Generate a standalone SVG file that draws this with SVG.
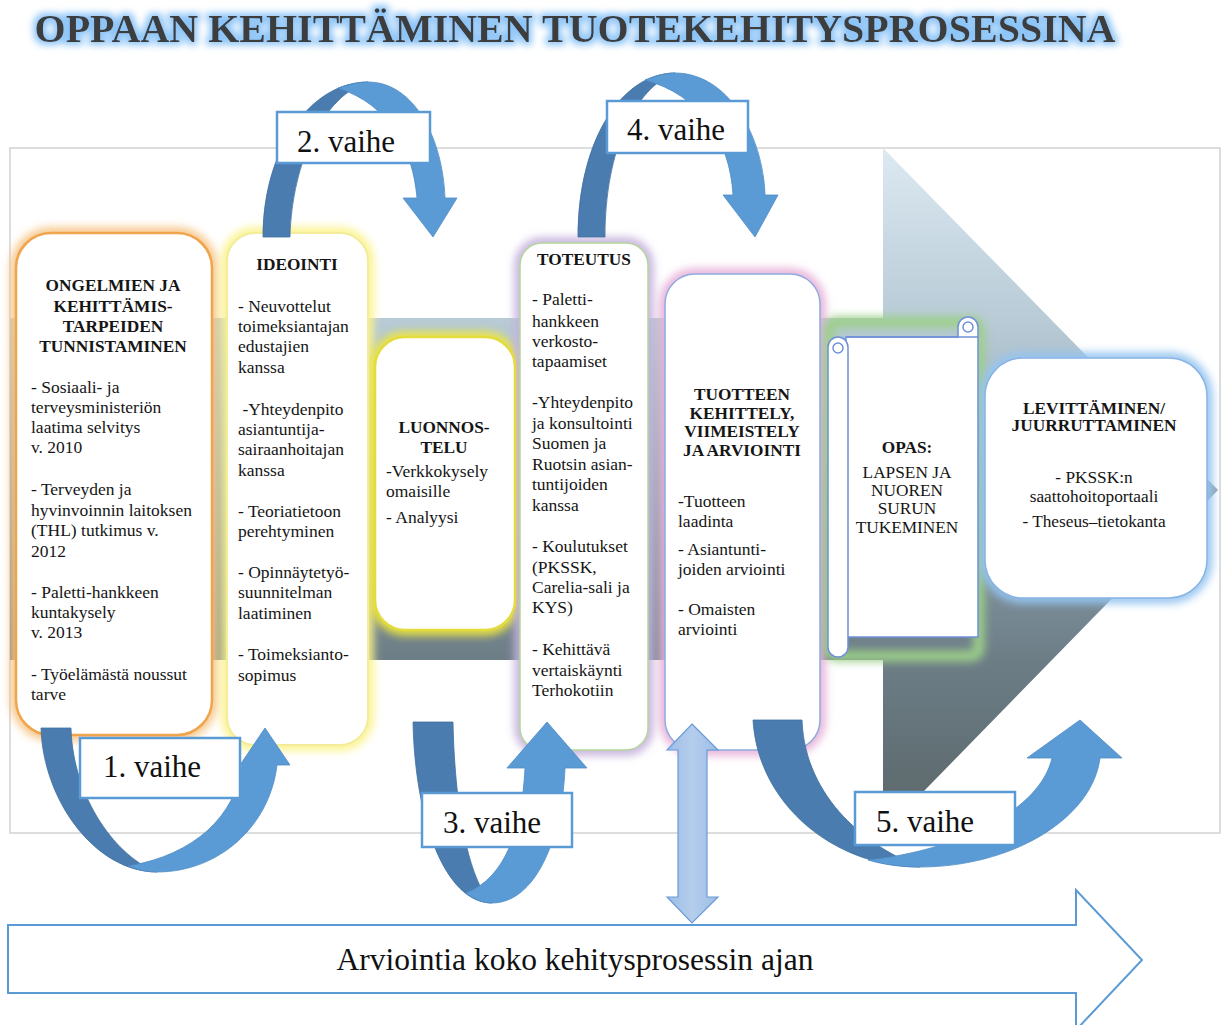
<svg xmlns="http://www.w3.org/2000/svg" width="1229" height="1025" viewBox="0 0 1229 1025" xml:space="preserve">
<defs>
  <style>
    .b{font-family:"Liberation Serif","Times New Roman",serif;font-size:17.5px;fill:#151515}
    .h{font-family:"Liberation Serif","Times New Roman",serif;font-size:17.3px;font-weight:bold;fill:#151515;text-anchor:middle}
    .c{font-family:"Liberation Serif","Times New Roman",serif;font-size:17.3px;fill:#151515;text-anchor:middle}
    .lbl{font-family:"Liberation Serif","Times New Roman",serif;font-size:31px;fill:#111}
    .lblbox{fill:#fff;stroke:#5b9bd5;stroke-width:2.5}
    .dark{fill:#4a7cb0;stroke:#41709f;stroke-width:0.8}
    .light{fill:#5b9bd5;stroke:#4f8cc4;stroke-width:0.8}
    .halo{fill:none;stroke-width:11;filter:url(#soft)}
    .box{fill:#fff}
  </style>
  <linearGradient id="chev" x1="0" y1="148" x2="0" y2="833" gradientUnits="userSpaceOnUse">
    <stop offset="0" stop-color="#dde9f2"/>
    <stop offset="0.25" stop-color="#b8cbd6"/>
    <stop offset="0.5" stop-color="#90a4b0"/>
    <stop offset="0.75" stop-color="#6c7d86"/>
    <stop offset="1" stop-color="#5a6668"/>
  </linearGradient>
  <linearGradient id="dbl" x1="0" y1="0" x2="1" y2="0">
    <stop offset="0" stop-color="#9dbde6"/>
    <stop offset="0.5" stop-color="#b4cdec"/>
    <stop offset="1" stop-color="#9dbde6"/>
  </linearGradient>
  <filter id="soft" x="-20%" y="-20%" width="140%" height="140%">
    <feGaussianBlur stdDeviation="4"/>
  </filter>
  <filter id="tglow" x="-5%" y="-60%" width="110%" height="220%">
    <feMorphology in="SourceAlpha" operator="dilate" radius="3" result="d"/>
    <feGaussianBlur in="d" stdDeviation="3.5" result="bl"/>
    <feFlood flood-color="#8cc4f7"/>
    <feComposite in2="bl" operator="in" result="g"/>
    <feMerge><feMergeNode in="g"/><feMergeNode in="SourceGraphic"/></feMerge>
  </filter>
</defs>

<rect width="1229" height="1025" fill="#fff"/>

<g id="title">
  <text x="575" y="42" text-anchor="middle" filter="url(#tglow)" style="font-family:'Liberation Serif','Times New Roman',serif;font-size:40px;font-weight:bold;fill:#3d3d3d">OPPAAN KEHITTÄMINEN TUOTEKEHITYSPROSESSINA</text>
</g>

<g id="background">
  <rect x="10" y="148" width="1210" height="685" fill="#fff" stroke="#d2d2d2" stroke-width="1.5"/>
  <polygon points="10,318 883,318 883,148 1218,490 883,833 883,660 10,660" fill="url(#chev)"/>
</g>

<g id="halos">
  <rect class="halo" x="16" y="233" width="196" height="502" rx="35" stroke="#f6c585"/>
  <rect class="halo" x="227" y="233" width="141" height="512" rx="28" stroke="#fbf38a"/>
  <rect class="halo" x="375" y="337" width="140" height="293" rx="30" stroke="#eee640"/>
  <rect class="halo" x="520" y="243" width="128" height="507" rx="22" stroke="#c6b2dc"/>
  <rect class="halo" x="665" y="274" width="155" height="476" rx="30" stroke="#e6b0d8"/>
  <rect class="halo" x="829" y="322" width="150" height="334" rx="8" stroke="#9ccf88"/>
  <rect class="halo" x="985" y="358" width="222" height="240" rx="38" stroke="#95c4f0"/>
</g>

<g id="n1">
  <rect class="box" x="16" y="233" width="196" height="502" rx="35" stroke="#f0a54c" stroke-width="2.5"/>
  <text class="h"><tspan x="113" y="291">ONGELMIEN JA</tspan><tspan x="113" y="312">KEHITTÄMIS-</tspan><tspan x="113" y="332">TARPEIDEN</tspan><tspan x="113" y="352">TUNNISTAMINEN</tspan></text>
  <text class="b"><tspan x="31" y="393">- Sosiaali- ja</tspan><tspan x="31" y="413">terveysministeriön</tspan><tspan x="31" y="433">laatima selvitys</tspan><tspan x="31" y="453">v. 2010</tspan><tspan x="31" y="495">- Terveyden ja</tspan><tspan x="31" y="516">hyvinvoinnin laitoksen</tspan><tspan x="31" y="536">(THL) tutkimus v.</tspan><tspan x="31" y="557">2012</tspan><tspan x="31" y="598">-  Paletti-hankkeen</tspan><tspan x="31" y="618">kuntakysely</tspan><tspan x="31" y="638">v. 2013</tspan><tspan x="31" y="680">- Työelämästä noussut</tspan><tspan x="31" y="700">tarve</tspan></text>
</g>

<g id="n2">
  <rect class="box" x="227" y="233" width="141" height="512" rx="28" stroke="#f3ec9a" stroke-width="2"/>
  <text class="h" x="297" y="270">IDEOINTI</text>
  <text class="b"><tspan x="238" y="312">- Neuvottelut</tspan><tspan x="238" y="332">toimeksiantajan</tspan><tspan x="238" y="352">edustajien</tspan><tspan x="238" y="373">kanssa</tspan><tspan x="238" y="415"> -Yhteydenpito</tspan><tspan x="238" y="435">asiantuntija-</tspan><tspan x="238" y="455">sairaanhoitajan</tspan><tspan x="238" y="476">kanssa</tspan><tspan x="238" y="517">- Teoriatietoon</tspan><tspan x="238" y="537">perehtyminen</tspan><tspan x="238" y="578">- Opinnäytetyö-</tspan><tspan x="238" y="598">suunnitelman</tspan><tspan x="238" y="619">laatiminen</tspan><tspan x="238" y="660">- Toimeksianto-</tspan><tspan x="238" y="681">sopimus</tspan></text>
</g>

<g id="n3">
  <rect class="box" x="375" y="337" width="140" height="293" rx="30" stroke="#e4dc3c" stroke-width="2.5"/>
  <text class="h"><tspan x="444" y="433">LUONNOS-</tspan><tspan x="444" y="453">TELU</tspan></text>
  <text class="b"><tspan x="386" y="477">-Verkkokysely</tspan><tspan x="386" y="497">omaisille</tspan><tspan x="386" y="523">- Analyysi</tspan></text>
</g>

<g id="n4">
  <rect class="box" x="520" y="243" width="128" height="507" rx="22" stroke="#b3d79b" stroke-width="1.5"/>
  <text class="h" x="584" y="265">TOTEUTUS</text>
  <text class="b"><tspan x="532" y="305">-  Paletti-</tspan><tspan x="532" y="327">hankkeen</tspan><tspan x="532" y="347">verkosto-</tspan><tspan x="532" y="367">tapaamiset</tspan><tspan x="532" y="408">-Yhteydenpito</tspan><tspan x="532" y="429">ja konsultointi</tspan><tspan x="532" y="449">Suomen ja</tspan><tspan x="532" y="470">Ruotsin asian-</tspan><tspan x="532" y="490">tuntijoiden</tspan><tspan x="532" y="511">kanssa</tspan><tspan x="532" y="552">- Koulutukset</tspan><tspan x="532" y="573">(PKSSK,</tspan><tspan x="532" y="593">Carelia-sali ja</tspan><tspan x="532" y="613">KYS)</tspan><tspan x="532" y="655">- Kehittävä</tspan><tspan x="532" y="676">vertaiskäynti</tspan><tspan x="532" y="696">Terhokotiin</tspan></text>
</g>

<g id="n5">
  <rect class="box" x="665" y="274" width="155" height="476" rx="30" stroke="#8eaae0" stroke-width="1.5"/>
  <text class="h"><tspan x="742" y="400">TUOTTEEN</tspan><tspan x="742" y="419">KEHITTELY,</tspan><tspan x="742" y="437">VIIMEISTELY</tspan><tspan x="742" y="456">JA ARVIOINTI</tspan></text>
  <text class="b"><tspan x="678" y="507">-Tuotteen</tspan><tspan x="678" y="527">laadinta</tspan><tspan x="678" y="555">- Asiantunti-</tspan><tspan x="678" y="575">joiden  arviointi</tspan><tspan x="678" y="615">- Omaisten</tspan><tspan x="678" y="635">arviointi</tspan></text>
</g>

<g id="n6">
  <g fill="#fff" stroke="#6f90d8" stroke-width="1.5">
    <path d="M958,337 L958,327 A10,10 0 0 1 978,327 L978,637 L846,637 L846,337 Z"/>
    <path d="M828,347 A10,10 0 0 1 848,347 L848,647 A10,10 0 0 1 828,647 Z"/>
    <circle cx="838" cy="348" r="5"/>
    <circle cx="968" cy="327" r="5"/>
    <line x1="846" y1="337" x2="978" y2="337"/>
  </g>
  <text class="h" x="907" y="453">OPAS:</text>
  <text class="c"><tspan x="907" y="478">LAPSEN JA</tspan><tspan x="907" y="496">NUOREN</tspan><tspan x="907" y="514">SURUN</tspan><tspan x="907" y="533">TUKEMINEN</tspan></text>
</g>

<g id="n7">
  <rect class="box" x="985" y="358" width="222" height="240" rx="38" stroke="#86b4e6" stroke-width="1.5"/>
  <text class="h"><tspan x="1094" y="414">LEVITTÄMINEN/</tspan><tspan x="1094" y="431">JUURRUTTAMINEN</tspan></text>
  <text class="c"><tspan x="1094" y="483">- PKSSK:n</tspan><tspan x="1094" y="502">saattohoitoportaali</tspan><tspan x="1094" y="527">- Theseus–tietokanta</tspan></text>
</g>

<g id="connectors">
  <g id="arrow1">
    <path class="dark" d="M41,728 C43,800 95,872 157,872 C118,858 73,800 71,728 Z"/>
    <path class="light" d="M128,866 C138,870 148,872 157,872 C220,872 270,825 277,765 L290,765 L265,728 L240,765 L242,765 C236,815 195,855 128,866 Z"/>
  </g>
  <g id="arrow2">
    <path class="dark" d="M263,237 C263,150 310,82 368,82 C325,95 292,160 290,237 Z"/>
    <path class="light" d="M338,88 C350,84 360,82 368,82 C415,82 443,140 445,198 L457,198 L433,237 L403,198 L417,198 C413,150 390,105 338,88 Z"/>
  </g>
  <g id="arrow3">
    <path class="dark" d="M413,722 C415,820 445,903 492,903 C472,885 455,820 453,722 Z"/>
    <path class="light" d="M466,893 C475,900 484,903 492,903 C535,903 562,840 565,768 L587,768 L547,722 L507,768 L525,768 C522,830 505,878 466,893 Z"/>
  </g>
  <g id="arrow4">
    <path class="dark" d="M578,237 C578,140 622,73 675,73 C635,88 605,150 605,237 Z"/>
    <path class="light" d="M645,80 C658,75 667,73 675,73 C728,73 763,135 765,195 L778,195 L755,237 L723,195 L733,195 C730,140 700,95 645,80 Z"/>
  </g>
  <g id="arrow5">
    <path class="dark" d="M753,720 C758,805 835,867 920,867 C870,848 805,800 802,720 Z"/>
    <path class="light" d="M868,860 C885,865 902,867 920,867 C1010,867 1092,820 1100,758 L1122,758 L1080,720 L1027,758 L1052,758 C1040,810 960,850 868,860 Z"/>
  </g>
  <path id="evalArrow" d="M692,724 L718,750 L707,750 L707,897 L718,897 L692,923 L667,897 L678,897 L678,750 L667,750 Z" fill="url(#dbl)" stroke="#6a9bd8" stroke-width="1.2"/>
</g>

<g id="labels">
  <g id="l1"><rect class="lblbox" x="80" y="738" width="160" height="60"/><text class="lbl" x="103" y="777">1. vaihe</text></g>
  <g id="l2"><rect class="lblbox" x="277" y="112" width="153" height="51"/><text class="lbl" x="297" y="152">2. vaihe</text></g>
  <g id="l3"><rect class="lblbox" x="422" y="793" width="150" height="54"/><text class="lbl" x="443" y="833">3. vaihe</text></g>
  <g id="l4"><rect class="lblbox" x="607" y="101" width="141" height="52"/><text class="lbl" x="627" y="140">4. vaihe</text></g>
  <g id="l5"><rect class="lblbox" x="855" y="792" width="160" height="53"/><text class="lbl" x="876" y="832">5. vaihe</text></g>
</g>

<g id="bottomArrow">
  <path d="M8,925 L1076,925 L1076,890 L1142,960 L1076,1030 L1076,993 L8,993 Z" fill="#fff" stroke="#5b9bd5" stroke-width="2"/>
  <text x="575" y="970" text-anchor="middle" style="font-family:'Liberation Serif','Times New Roman',serif;font-size:31.5px;fill:#111">Arviointia koko kehitysprosessin ajan</text>
</g>
</svg>
